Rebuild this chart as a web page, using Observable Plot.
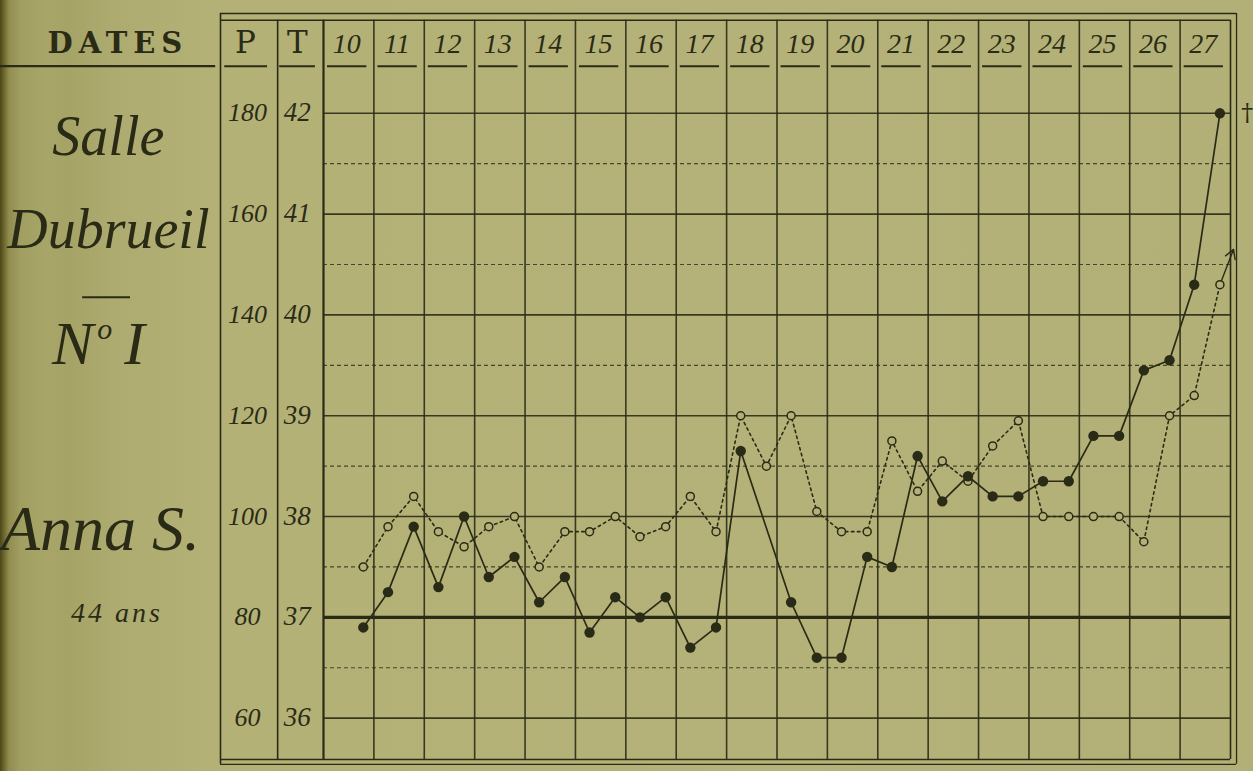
<!DOCTYPE html>
<html>
<head>
<meta charset="utf-8">
<script src="https://cdn.jsdelivr.net/npm/d3@7"></script>
<script src="https://cdn.jsdelivr.net/npm/@observablehq/plot@0.6"></script>
<style>
  html, body { margin: 0; padding: 0; }
  body {
    width: 1253px; height: 771px; overflow: hidden; position: relative;
    background: linear-gradient(90deg, #4b4618 0px, #6c672c 4px, #918c4f 9px, #a19e62 20px, #a8a569 45px, #a6a367 68px, #aeab70 115px, #b4b177 210px, #b4b278 800px, #b2b076 1253px);
  }
  #chart { position: absolute; left: 0; top: 0; }
</style>
</head>
<body>
<div id="chart"></div>
<script>
// ---------- data (read from the sheet) ----------
const days = [10, 11, 12, 13, 14, 15, 16, 17, 18, 19, 20, 21, 22, 23, 24, 25, 26, 27];
// temperature (°C), filled dots, solid line — matin / soir
const tempMatin = [null, 37.25, 37.3, 37.4, 37.15, 36.85, 37.0, 36.7, 38.65, 37.15, 36.6, 37.5, 38.15, 38.2, 38.35, 38.8, 39.45, 40.3];
const tempSoir  = [36.9, 37.9, 38.0, 37.6, 37.4, 37.2, 37.2, 36.9, null, 36.6, 37.6, 38.6, 38.4, 38.2, 38.35, 38.8, 39.55, 42.0];
// pulse (beats / min), open circles, dotted line — matin / soir
const pulsMatin = [null, 98, 97, 98, 90, 97, 96, 104, 120, 120, 97, 115, 111, 114, 100, 100, 95, 124];
const pulsSoir  = [90, 104, 94, 100, 97, 100, 98, 97, 110, 101, 97, 105, 107, 119, 100, 100, 120, 146];
const pTicks = [60, 80, 100, 120, 140, 160, 180];
const tTicks = [36, 37, 38, 39, 40, 41, 42];
const tHalf = [36.5, 37.5, 38.5, 39.5, 40.5, 41.5];
const slotOffset = {matin: 0.28, soir: 0.79};
const deathMark = "†";
const arrowTip = {x: 28.06, p: 153};

// ---------- derived tables ----------
function readings(m, s, key) {
  const out = [];
  days.forEach((d, i) => {
    if (m[i] != null) out.push({day: d, slot: "matin", x: d + slotOffset.matin, [key]: m[i]});
    if (s[i] != null) out.push({day: d, slot: "soir", x: d + slotOffset.soir, [key]: s[i]});
  });
  return out;
}
const temp = readings(tempMatin, tempSoir, "t");
const puls = readings(pulsMatin, pulsSoir, "p");
const pToT = p => (p + 660) / 20; // P 180 ↔ T 42, P 60 ↔ T 36
const lastP = puls[puls.length - 1];
const lastT = temp[temp.length - 1];

// ---------- sheet layout (in scale units) ----------
const L = {
  xPage: 3.59, xLeft: 7.956, xPT: 9.09, xInR: 28, xOutR: 28.12,
  yTop: 42.99, yTop2: 42.923, yBot: 35.59, yBot2: 35.542,
  yHead: 42.595, yUnder: 42.466
};

const ink = "#2a2b16";
const paper = "#b4b178";
const script = "Liberation Serif, Times New Roman, serif";
const serif = "DejaVu Serif, serif";

const chart = Plot.plot({
  width: 1253, height: 771,
  marginLeft: 323, marginRight: 23, marginTop: 13, marginBottom: 12,
  x: {domain: [10, 28], axis: null},
  y: {domain: [L.yBot, L.yTop], axis: null},
  style: {background: "transparent", overflow: "visible", color: ink},
  marks: [
    // table borders
    Plot.ruleY([L.yTop], {x1: L.xLeft, x2: L.xOutR, stroke: ink, strokeWidth: 1.6}),
    Plot.ruleY([L.yTop2], {x1: L.xLeft, x2: L.xInR, stroke: ink, strokeWidth: 1.3}),
    Plot.ruleY([L.yBot], {x1: L.xLeft, x2: L.xInR, stroke: ink, strokeWidth: 1.6}),
    Plot.ruleY([L.yBot2], {x1: L.xLeft, x2: L.xOutR, stroke: ink, strokeWidth: 1.3}),
    Plot.ruleX([L.xLeft], {y1: L.yBot2, y2: L.yTop, stroke: ink, strokeWidth: 1.6}),
    Plot.ruleX([L.xInR], {y1: L.yBot, y2: L.yTop2, stroke: ink, strokeWidth: 1.6}),
    Plot.ruleX([L.xOutR], {y1: L.yBot2, y2: L.yTop, stroke: ink, strokeWidth: 1.3}),
    Plot.ruleX([L.xPT], {y1: L.yBot, y2: L.yTop2, stroke: ink, strokeWidth: 1.6}),
    Plot.ruleX([10], {y1: L.yBot, y2: L.yTop2, stroke: ink, strokeWidth: 2.2}),
    // day columns
    Plot.ruleX(days.slice(1), {y1: L.yBot, y2: L.yTop2, stroke: ink, strokeWidth: 1.6, strokeOpacity: 0.9}),
    // half-degree dotted lines
    Plot.ruleY(tHalf, {x1: 10, x2: L.xInR, stroke: ink, strokeWidth: 1.2, strokeDasharray: "4,3", strokeOpacity: 0.8}),
    // degree lines
    Plot.ruleY(tTicks.filter(t => t !== 37), {x1: 10, x2: L.xInR, stroke: ink, strokeWidth: 1.6, strokeOpacity: 0.9}),
    Plot.ruleY([37], {x1: 10, x2: L.xInR, stroke: ink, strokeWidth: 3.2}),
    // header underlines
    Plot.ruleY(days, {y: L.yUnder, x1: d => d + 0.08, x2: d => d + 0.86, stroke: ink, strokeWidth: 2}),
    Plot.ruleY([L.yUnder], {x1: 8.04, x2: 8.89, stroke: ink, strokeWidth: 2}),
    Plot.ruleY([L.yUnder], {x1: 9.13, x2: 9.84, stroke: ink, strokeWidth: 2}),
    Plot.ruleY([L.yUnder + 0.002], {x1: L.xPage, x2: 7.86, stroke: ink, strokeWidth: 2.2}),
    // header texts
    Plot.text(days, {x: d => d + 0.46, y: L.yHead, text: d => String(d), lineAnchor: "bottom",
      fontFamily: script, fontStyle: "italic", fontSize: 28, fill: ink}),
    Plot.text(["P"], {x: 8.45, y: L.yHead, text: d => d, lineAnchor: "bottom", fontFamily: serif, fontSize: 31, fill: ink}),
    Plot.text(["T"], {x: 9.48, y: L.yHead, text: d => d, lineAnchor: "bottom", fontFamily: serif, fontSize: 31, fill: ink}),
    Plot.text(["DATES"], {x: 5.92, y: L.yHead, text: d => d, lineAnchor: "bottom", fontFamily: serif, fontWeight: "bold", fontSize: 29, fill: ink}),
    // P and T scale labels
    Plot.text(pTicks, {x: 8.49, y: pToT, text: d => String(d), lineAnchor: "bottom", dy: 8,
      fontFamily: script, fontStyle: "italic", fontSize: 26, fill: ink}),
    Plot.text(tTicks, {x: 9.48, y: d => d, text: d => String(d), lineAnchor: "bottom", dy: 8,
      fontFamily: script, fontStyle: "italic", fontSize: 27, fill: ink}),
    // patient panel
    Plot.text(["Salle"], {x: 5.73, y: 41.583, text: d => d, lineAnchor: "bottom", fontFamily: script, fontStyle: "italic", fontSize: 56, fill: ink}),
    Plot.text(["Dubrueil"], {x: 5.73, y: 40.661, text: d => d, lineAnchor: "bottom", fontFamily: script, fontStyle: "italic", fontSize: 56, fill: ink}),
    Plot.ruleY([40.175], {x1: 5.22, x2: 6.17, stroke: ink, strokeWidth: 2}),
    Plot.text(["N"], {x: 5.02, y: 39.51, text: d => d, lineAnchor: "bottom", fontFamily: script, fontStyle: "italic", fontSize: 62, fill: ink}),
    Plot.text(["o"], {x: 5.66, y: 39.76, text: d => d, lineAnchor: "bottom", fontFamily: script, fontStyle: "italic", fontSize: 30, fill: ink}),
    Plot.text(["I"], {x: 6.25, y: 39.51, text: d => d, lineAnchor: "bottom", fontFamily: script, fontStyle: "italic", fontSize: 62, fill: ink}),
    Plot.text(["Anna S."], {x: 5.575, y: 37.665, text: d => d, lineAnchor: "bottom", fontFamily: script, fontStyle: "italic", fontSize: 64, fill: ink}),
    Plot.text(["44 ans"], {x: 5.9, y: 36.95, text: d => d, lineAnchor: "bottom", fontFamily: script, fontStyle: "italic", fontSize: 28, fill: ink}),
    // pulse: dotted line with open circles
    Plot.line(puls, {x: "x", y: d => pToT(d.p), stroke: ink, strokeWidth: 1.6, strokeDasharray: "2.5,3.5"}),
    Plot.arrow([lastP], {x1: "x", y1: d => pToT(d.p), x2: () => arrowTip.x, y2: () => pToT(arrowTip.p),
      stroke: ink, strokeWidth: 1.4, headLength: 11}),
    Plot.dot(puls, {x: "x", y: d => pToT(d.p), r: 4, fill: paper, stroke: ink, strokeWidth: 1.5}),
    // temperature: solid line with filled dots
    Plot.line(temp, {x: "x", y: "t", stroke: ink, strokeWidth: 1.7}),
    Plot.dot(temp, {x: "x", y: "t", r: 5.2, fill: ink, stroke: "none"}),
    Plot.text([lastT], {x: () => 28.33, y: "t", text: () => deathMark, fontSize: 24, fill: ink, fontFamily: serif})
  ]
});
// letter spacing for the spaced-out header and the age line
d3.select(chart).selectAll("text")
  .filter(function () { return this.textContent === "DATES"; })
  .style("letter-spacing", "6px");
d3.select(chart).selectAll("text")
  .filter(function () { return this.textContent === "44 ans"; })
  .style("letter-spacing", "3px");
document.getElementById("chart").appendChild(chart);
</script>
</body>
</html>
